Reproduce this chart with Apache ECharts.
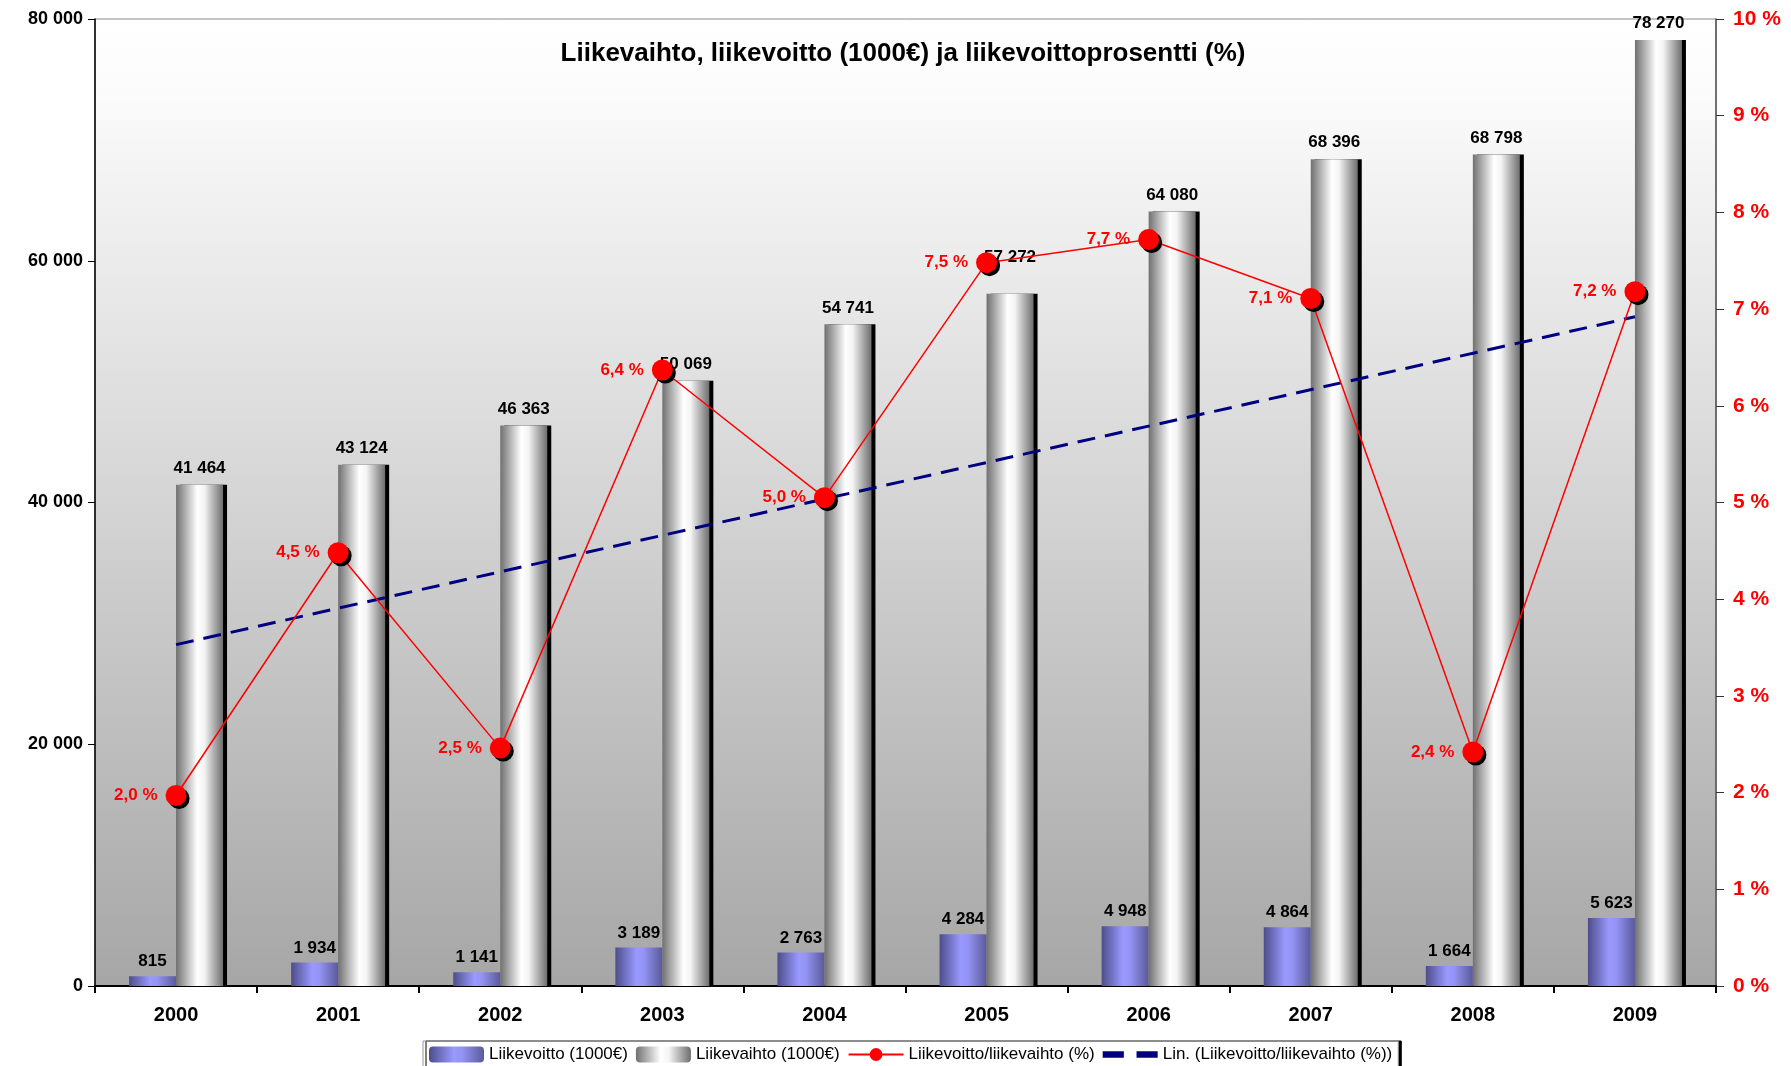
<!DOCTYPE html>
<html>
<head>
<meta charset="utf-8">
<script src="https://cdn.jsdelivr.net/npm/echarts@6/dist/echarts.min.js"></script>
<style>
html,body{margin:0;padding:0;background:#fff;}
#chart{width:1791px;height:1066px;}
</style>
</head>
<body>
<div id="chart"></div>
<script>
const years = ['2000','2001','2002','2003','2004','2005','2006','2007','2008','2009'];
const liikevoitto = [815, 1934, 1141, 3189, 2763, 4284, 4948, 4864, 1664, 5623];
const liikevaihto = [41464, 43124, 46363, 50069, 54741, 57272, 64080, 68396, 68798, 78270];
const prosentti = [1.97, 4.48, 2.46, 6.37, 5.05, 7.48, 7.72, 7.11, 2.42, 7.18];
const trendi = [3.53, null, null, null, null, null, null, null, null, 6.92];
const leftTicks = [0, 20000, 40000, 60000, 80000];
const rightTicks = [0,1,2,3,4,5,6,7,8,9,10];

const FONT = '"Liberation Sans", Arial, sans-serif';
const NARROW = '"Liberation Sans Narrow", "Arial Narrow", "Liberation Sans", sans-serif';
function fmtNum(v){ return String(v).replace(/\B(?=(\d{3})+(?!\d))/g, ' '); }
function fmtPct(v){ return v.toFixed(1).replace('.', ',') + ' %'; }

const grayGrad = new echarts.graphic.LinearGradient(0,0,1,0,[
  {offset:0,color:'#707070'},{offset:0.45,color:'#ffffff'},{offset:0.6,color:'#f4f4f4'},{offset:1,color:'#6e6e6e'}]);
const blueGrad = new echarts.graphic.LinearGradient(0,0,1,0,[
  {offset:0,color:'#4d4d8a'},{offset:0.45,color:'#9999ff'},{offset:0.6,color:'#9494f5'},{offset:1,color:'#5a5a9a'}]);

// the 2005 revenue label sits higher in the original (moved above the marker)
const vaihtoData = liikevaihto.map((v, i) => i === 5 ? {value: v, label: {offset: [0, -20]}} : v);

const dashIcon = 'path://M0,0 L20,0 L20,6 L0,6 Z M32,0 L52,0 L52,6 L32,6 Z';

const chart = echarts.init(document.getElementById('chart'), null, {renderer:'canvas'});
chart.setOption({
  animation:false,
  textStyle:{fontFamily:FONT},
  title:{
    text:'Liikevaihto, liikevoitto (1000€) ja liikevoittoprosentti (%)',
    left:898, textAlign:'center', top:36,
    textStyle:{fontFamily:FONT, fontSize:26, fontWeight:'bold', color:'#000'}
  },
  legend:{
    bottom:-2, left:423,
    backgroundColor:'#fff', borderColor:'#999', borderWidth:1,
    shadowColor:'#000', shadowOffsetX:3, shadowOffsetY:0, shadowBlur:0,
    padding:[5,6,5,6], itemGap:8, itemWidth:55, itemHeight:16,
    textStyle:{fontFamily:NARROW, fontSize:17, color:'#000'},
    data:[
      {name:'Liikevoitto (1000€)'},
      {name:'Liikevaihto (1000€)'},
      {name:'Liikevoitto/liikevaihto (%)'},
      {name:'Lin. (Liikevoitto/liikevaihto (%))', icon:dashIcon, itemStyle:{color:'#000080'}}
    ]
  },
  grid:{
    left:95, right:75, top:19, bottom:80,
    show:true, borderColor:'#8a8a8a', borderWidth:1,
    backgroundColor:new echarts.graphic.LinearGradient(0,0,0,1,[
      {offset:0,color:'#ffffff'},{offset:0.08,color:'#fbfbfb'},{offset:1,color:'#a6a6a6'}])
  },
  xAxis:{
    type:'category', data:years, boundaryGap:true,
    axisLine:{lineStyle:{color:'#000', width:2}},
    axisTick:{show:true, interval:0, length:7, lineStyle:{color:'#000', width:2}},
    axisLabel:{fontFamily:FONT, fontSize:20, fontWeight:'bold', color:'#000', margin:19}
  },
  yAxis:[
    {
      type:'value', min:leftTicks[0], max:leftTicks[leftTicks.length-1], interval:leftTicks[1]-leftTicks[0],
      axisLine:{show:true, lineStyle:{color:'#000', width:1.5}},
      axisTick:{show:true, length:7, lineStyle:{color:'#000'}},
      splitLine:{show:false},
      axisLabel:{fontFamily:FONT, fontSize:18, fontWeight:'bold', color:'#000', margin:12, formatter:fmtNum}
    },
    {
      type:'value', min:rightTicks[0], max:rightTicks[rightTicks.length-1], interval:rightTicks[1]-rightTicks[0],
      position:'right',
      axisLine:{show:true, lineStyle:{color:'#555', width:1.5}},
      axisTick:{show:true, length:8, lineStyle:{color:'#333'}},
      splitLine:{show:false},
      axisLabel:{fontFamily:FONT, fontSize:21, fontWeight:'bold', color:'#ff0000', margin:17, formatter:'{value} %'}
    }
  ],
  series:[
    {
      name:'Liikevoitto (1000€)', type:'bar', data:liikevoitto, yAxisIndex:0,
      barWidth:47, barGap:'0%',
      itemStyle:{color:blueGrad},
      label:{show:true, position:'top', distance:6, fontFamily:FONT, fontSize:17, fontWeight:'bold', color:'#000',
        formatter:p=>fmtNum(p.value)},
      z:2
    },
    {
      name:'Liikevaihto (1000€)', type:'bar', data:vaihtoData, yAxisIndex:0,
      barWidth:47, barGap:'0%',
      itemStyle:{color:grayGrad, shadowColor:'#000', shadowOffsetX:4, shadowOffsetY:0, shadowBlur:0},
      label:{show:true, position:'top', distance:8, fontFamily:FONT, fontSize:17, fontWeight:'bold', color:'#000',
        formatter:p=>fmtNum(p.value)},
      z:2
    },
    {
      name:'Lin. (Liikevoitto/liikevaihto (%))', type:'line', data:trendi, yAxisIndex:1,
      connectNulls:true, symbol:'none', showSymbol:false,
      itemStyle:{color:'#000080'},
      lineStyle:{color:'#000080', width:3, type:[18,10]},
      z:4
    },
    {
      name:'Liikevoitto/liikevaihto (%)', type:'line', data:prosentti, yAxisIndex:1,
      symbol:'circle', symbolSize:21,
      itemStyle:{color:'#ff0000', shadowColor:'#000', shadowOffsetX:3, shadowOffsetY:3, shadowBlur:0},
      lineStyle:{color:'#ff0000', width:1.5},
      label:{show:true, position:'left', distance:8, fontFamily:FONT, fontSize:17, fontWeight:'bold', color:'#ff0000',
        formatter:p=>fmtPct(p.value)},
      z:5
    }
  ]
});
</script>
</body>
</html>
